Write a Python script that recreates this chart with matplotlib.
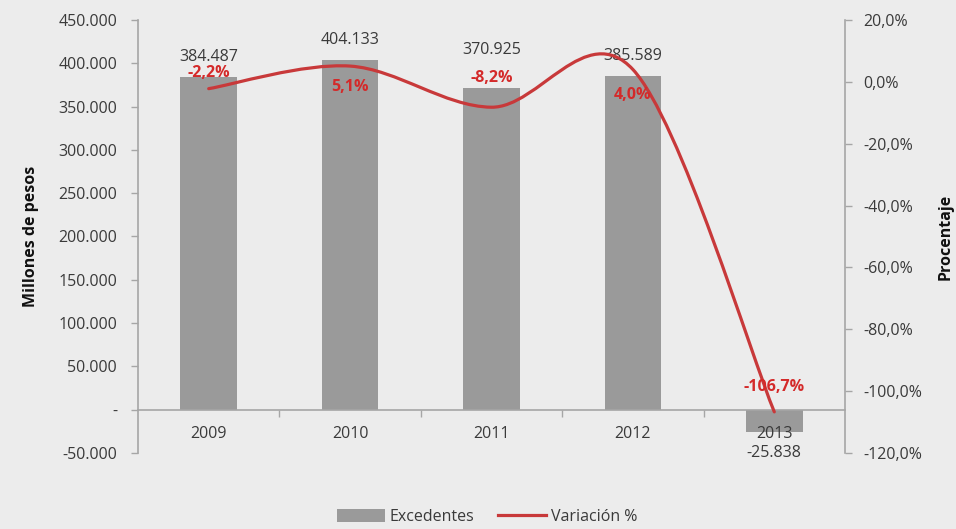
import matplotlib
matplotlib.use("Agg")
import matplotlib.pyplot as plt
from matplotlib.path import Path
from matplotlib.patches import PathPatch
from matplotlib.lines import Line2D
from matplotlib.patches import Patch
import matplotlib.ticker as mticker

plt.rcParams['font.family'] = ['Open Sans', 'DejaVu Sans']

years = ["2009", "2010", "2011", "2012", "2013"]
excedentes = [384487, 404133, 370925, 385589, -25838]
variacion = [-2.2, 5.1, -8.2, 4.0, -106.7]
left_ticks = [-50000, 0, 50000, 100000, 150000, 200000, 250000, 300000, 350000, 400000, 450000]
right_ticks = [-120, -100, -80, -60, -40, -20, 0, 20]

BG = "#ececec"
BAR = "#9a9a9a"
RED = "#c8393a"
LBLRED = "#d42a2a"
AX = "#a6a6a6"
TXT = "#3a3a3a"
FS = 11.5

fig = plt.figure(figsize=(9.56, 5.29), dpi=100, facecolor=BG)
ax = fig.add_axes([138/956, 1-453/529, (845-138)/956, (453-20)/529])
ax.set_facecolor(BG)
ax.set_axisbelow(False)
ax2 = ax.twinx()

x = list(range(len(years)))
ax.bar(x, excedentes, width=0.4, color=BAR, zorder=2)
ax.set_xlim(-0.5, len(years)-0.5)
ax.set_ylim(-50000, 450000)
ax.set_yticks(left_ticks)

def fmt_left(v, pos):
    if v == 0:
        return "-"
    s = f"{abs(int(v)):,}".replace(",", ".")
    return ("-" if v < 0 else "") + s
ax.yaxis.set_major_formatter(mticker.FuncFormatter(fmt_left))

for s in ["top", "right"]:
    ax.spines[s].set_visible(False)
ax.spines["left"].set_color(AX)
ax.spines["bottom"].set_color(AX)
ax.spines["bottom"].set_position(("data", 0))
ax.spines["bottom"].set_linewidth(1.2)
ax.spines["left"].set_linewidth(1.2)

ax.set_xticks([i + 0.5 for i in x[:-1]])
ax.set_xticklabels([])
ax.set_xticks(x, minor=True)
ax.set_xticklabels(years, minor=True)
ax.tick_params(axis="x", which="major", direction="out", length=5, color=AX, width=1)
ax.tick_params(axis="x", which="minor", length=0, pad=12, labelsize=FS, labelcolor=TXT)
ax.tick_params(axis="y", direction="out", length=5, color=AX, width=1, labelsize=FS, labelcolor=TXT, pad=10)
ax.set_ylabel("Millones de pesos", fontsize=11.5, fontweight="bold", color="#111111")
ax.yaxis.set_label_coords((39-138)/707, 0.5)

# bar value labels (offsets in points from bar end)
bar_off = [14, 14, 28, 14.5, -15]
for xi, v, off in zip(x, excedentes, bar_off):
    lbl = ("-" if v < 0 else "") + f"{abs(v):,}".replace(",", ".")
    ax.annotate(lbl, (xi, v), xytext=(0, off), textcoords="offset points",
                ha="center", va="center", fontsize=FS, color=TXT, zorder=5)

# right axis
ax2.set_ylim(-120, 20)
ax2.set_yticks(right_ticks)
ax2.yaxis.set_major_formatter(mticker.FuncFormatter(lambda v, p: f"{v:.1f}".replace(".", ",") + "%"))
for s in ["top", "left", "bottom"]:
    ax2.spines[s].set_visible(False)
ax2.spines["right"].set_color(AX)
ax2.spines["right"].set_linewidth(1.2)
ax2.tick_params(axis="y", direction="out", length=5, color=AX, width=1, labelsize=FS, labelcolor=TXT, pad=8)
ax2.set_ylabel("Procentaje", fontsize=11.5, fontweight="bold", color="#111111", rotation=90)
ax2.yaxis.set_label_coords((938-138)/707, 0.5)

# smoothed line (Catmull-Rom -> cubic Bezier, Excel-like)
pts = list(zip(x, variacion))
verts = [pts[0]]
codes = [Path.MOVETO]
n = len(pts)
for i in range(n - 1):
    p0 = pts[i - 1] if i > 0 else pts[i]
    p1 = pts[i]
    p2 = pts[i + 1]
    p3 = pts[i + 2] if i + 2 < n else pts[i + 1]
    c1 = (p1[0] + (p2[0] - p0[0]) / 6, p1[1] + (p2[1] - p0[1]) / 6)
    c2 = (p2[0] - (p3[0] - p1[0]) / 6, p2[1] - (p3[1] - p1[1]) / 6)
    verts += [c1, c2, p2]
    codes += [Path.CURVE4] * 3
ax2.add_patch(PathPatch(Path(verts, codes), facecolor="none", edgecolor=RED, lw=2.3, zorder=3, capstyle="round"))

pct_off = [11, -15, 21, -18.5, 18]
for xi, v, off in zip(x, variacion, pct_off):
    ax2.annotate(f"{v:.1f}".replace(".", ",") + "%", (xi, v), xytext=(0, off), textcoords="offset points",
                 ha="center", va="center", fontsize=FS, fontweight="bold", color=LBLRED, zorder=4)

handles = [Patch(facecolor=BAR, edgecolor="none"), Line2D([0], [0], color=RED, lw=2.3)]
fig.legend(handles, ["Excedentes", "Variación %"], loc="center", bbox_to_anchor=(487/956, 1-517/529),
           ncol=2, frameon=False, fontsize=FS, handlelength=3.0, handleheight=0.8, columnspacing=1.5,
           handletextpad=0.3, labelcolor=TXT)

fig.savefig("out.png", dpi=100, facecolor=BG)
